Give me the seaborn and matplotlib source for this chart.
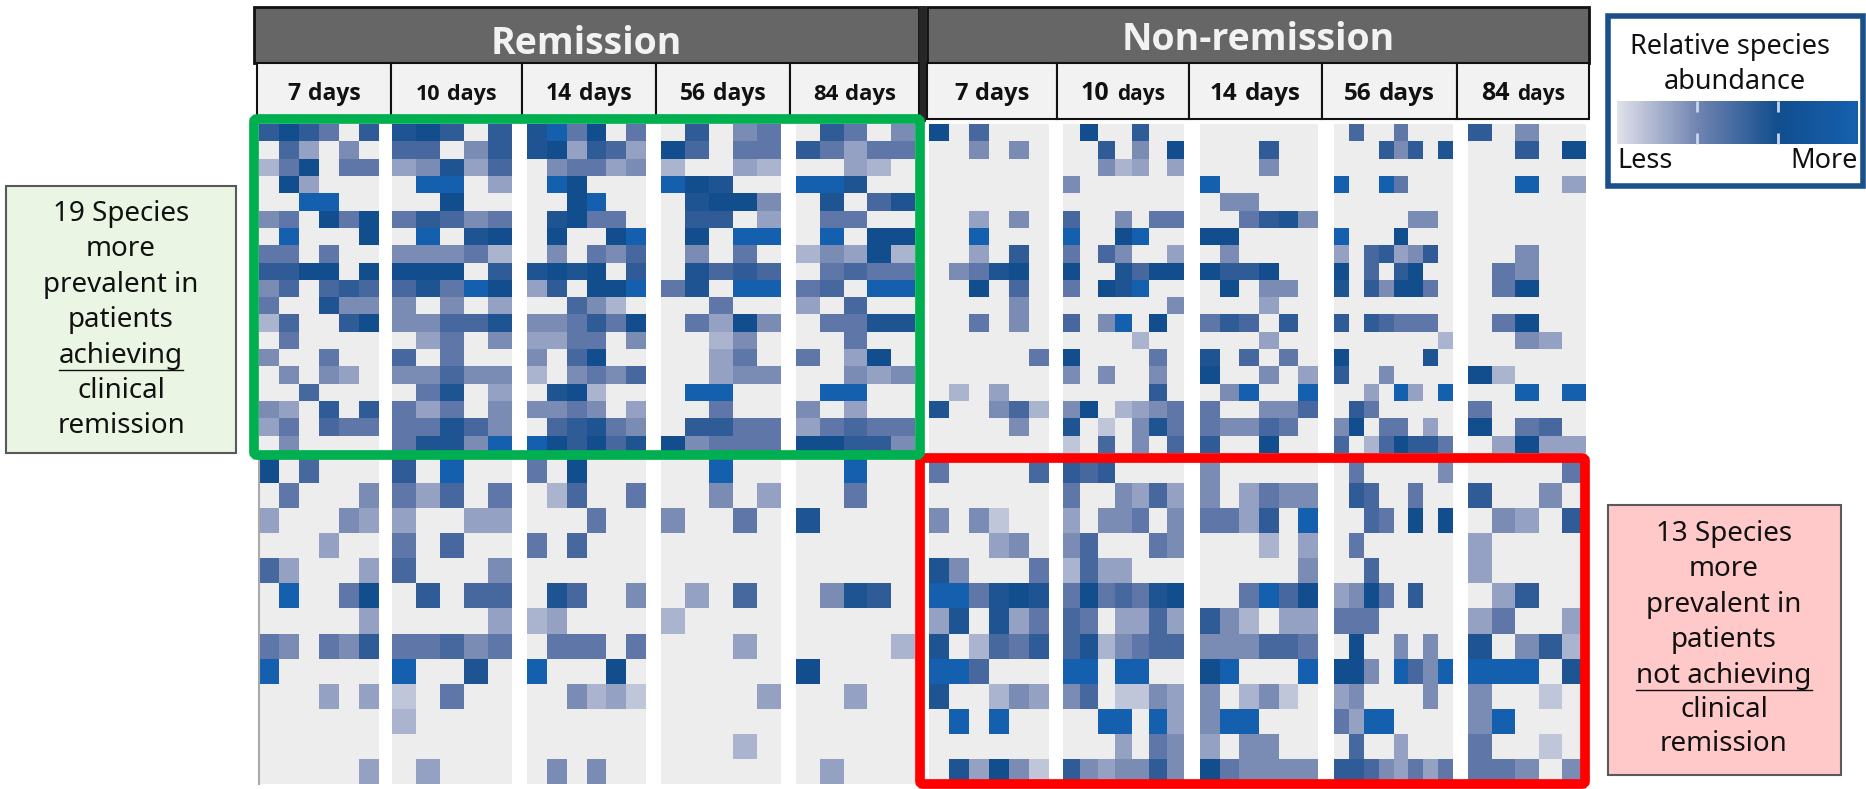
import numpy as np
import matplotlib
matplotlib.use("Agg")
import matplotlib.pyplot as plt
import seaborn as sns
from matplotlib.colors import LinearSegmentedColormap
from matplotlib.patches import Rectangle, FancyBboxPatch

# values on a 0-10 scale, 0 = species not detected
rem_top_7 = [[7,9,7,5,0,7],[0,6,3,0,4,0],[2,5,9,0,5,5],[0,9,3,0,0,0],[0,0,10,10,0,0],[4,5,0,9,5,9],[0,10,0,0,0,9],
             [5,5,0,5,0,0],[7,7,9,9,0,9],[4,6,0,6,7,6],[5,0,0,8,4,4],[2,6,0,0,7,9],[0,5,0,0,0,0],[4,0,0,5,0,0],
             [0,4,0,4,3,0],[0,0,6,0,0,0],[4,3,0,7,0,7],[3,5,0,6,5,5],[0,4,0,0,0,0]]
rem_top_10 = [[8,9,7,0,7],[6,6,0,4,7],[3,4,8,3,6],[0,10,10,0,3],[0,0,9,0,0],[5,7,6,4,5],[0,10,0,8,9],
              [4,4,4,5,2],[9,9,9,0,7],[6,8,5,10,9],[4,0,4,0,3],[4,4,6,6,8],[0,3,5,0,4],[6,0,5,0,0],
              [4,4,6,4,4],[0,5,8,0,3],[5,3,5,0,4],[5,5,8,6,4],[5,8,8,4,10]]
rem_top_14 = [[8,10,5,9,0,5],[8,9,3,7,6,3],[0,4,5,5,3,4],[0,10,9,0,0,0],[0,0,9,10,0,0],[0,8,9,5,5,0],[0,9,0,0,9,10],
              [0,4,0,5,4,6],[8,9,8,9,0,7],[3,7,0,9,9,10],[0,0,6,4,2,0],[4,4,5,7,5,9],[3,3,5,5,0,4],[4,0,6,9,0,0],
              [2,0,4,5,4,6],[0,8,9,2,0,0],[4,4,5,4,0,3],[0,6,7,8,5,4],[10,9,7,9,6,8]]
rem_top_56 = [[0,7,0,4,5],[9,6,0,5,5],[2,0,0,3,2],[10,9,8,0,0],[0,8,9,9,4],[0,7,7,0,3],[0,9,0,10,10],
              [0,4,0,5,0],[0,8,6,7,6],[5,8,0,10,10],[0,0,5,0,0],[0,5,3,9,4],[0,0,2,4,0],[0,0,3,5,0],
              [0,0,3,4,4],[0,10,10,0,0],[0,0,5,0,0],[0,7,7,5,5],[9,4,5,5,5]]
rem_top_84 = [[0,7,5,0,4],[7,5,3,5,5],[0,0,3,2,0],[10,10,8,0,0],[0,8,0,6,8],[0,5,5,0,0],[0,10,0,9,9],
              [2,4,3,9,2],[0,5,6,5,5],[5,6,0,10,10],[3,0,6,0,0],[0,5,5,8,8],[0,0,5,0,0],[5,0,3,9,0],
              [0,0,4,3,4],[0,10,10,0,0],[4,0,3,0,0],[3,5,6,5,5],[9,9,7,7,4]]

non_top_7 = [[9,0,6,0,0,0],[0,0,4,0,4,0],[0,0,0,0,0,0],[0,0,0,0,0,0],[0,0,0,0,0,0],[0,0,3,0,4,0],[0,0,10,0,0,0],
             [0,0,3,0,7,0],[0,4,5,8,9,0],[0,0,9,0,6,0],[0,0,0,0,4,0],[0,0,5,0,4,0],[0,0,0,0,0,0],[0,0,0,0,0,5],
             [0,0,0,0,0,0],[0,2,0,3,0,0],[8,0,0,4,6,2],[0,0,0,0,4,0],[0,0,0,0,0,0]]
non_top_10 = [[0,9,0,0,7,0,0],[0,0,7,0,4,0,9],[0,0,4,2,3,0,3],[4,0,0,0,0,0,0],[0,0,0,0,0,0,0],[6,0,0,4,0,5,5],[10,0,0,9,10,0,0],
              [5,0,6,4,0,0,3],[9,0,0,8,6,9,9],[5,0,9,8,10,0,0],[0,0,0,0,0,0,4],[6,0,4,10,0,9,0],[0,0,0,0,2,0,0],[9,0,0,0,0,5,0],
              [4,0,4,0,0,4,0],[0,0,0,0,0,7,0],[4,9,0,2,3,4,5],[8,0,1,0,4,8,5],[1,0,6,0,4,0,6]]
non_top_14 = [[0,0,0,0,0,0],[0,0,0,7,0,0],[0,0,0,4,0,0],[10,0,0,0,0,0],[0,4,4,0,0,0],[0,0,5,7,8,4],[9,9,0,0,0,0],
              [0,4,0,0,0,0],[9,7,7,9,0,0],[0,9,0,4,4,0],[0,0,0,3,0,0],[5,7,6,0,7,0],[0,0,0,3,0,0],[8,0,6,0,5,0],
              [9,0,0,4,0,3],[0,4,10,0,0,10],[5,0,0,4,4,6],[5,4,4,6,5,0],[7,0,0,9,0,0]]
non_top_56 = [[0,6,0,0,5,0,0,0],[0,0,0,7,4,7,0,8],[0,0,0,0,0,0,0,0],[10,0,0,10,5,0,0,0],[0,0,0,0,0,0,0,0],[0,0,0,0,0,4,4,0],[10,0,0,0,9,0,0,0],
              [3,0,6,7,3,4,7,0],[9,0,6,0,7,9,0,0],[8,0,7,4,9,9,5,0],[0,0,0,0,0,0,0,0],[7,0,7,6,5,5,5,0],[0,0,0,0,0,0,0,2],[9,0,0,0,0,0,8,0],
              [7,0,0,4,0,0,0,0],[0,0,3,0,10,3,0,10],[0,7,5,0,0,0,0,0],[4,9,0,5,5,0,3,0],[6,0,2,6,9,7,7,5]]
non_top_84 = [[7,0,4,0,0],[0,0,7,0,9],[0,0,0,0,0],[0,0,10,0,3],[0,0,0,0,0],[0,0,0,0,0],[0,0,0,0,0],
              [0,0,4,0,0],[0,5,4,0,0],[0,5,9,0,0],[0,0,0,0,0],[0,5,9,0,0],[0,0,4,3,0],[0,0,0,0,0],
              [9,2,0,0,0],[0,0,10,0,10],[5,0,0,0,0],[9,0,5,6,0],[0,3,9,3,3]]

rem_bot_7 = [[9,0,6,0,0,0],[0,5,0,0,0,4],[3,0,0,0,4,3],[0,0,0,3,0,0],[6,3,0,0,0,3],[0,10,0,0,5,9],[0,0,0,0,0,3],
             [5,4,0,5,4,7],[10,0,0,0,0,0],[0,0,0,3,0,3],[0,0,0,0,0,0],[0,0,0,0,0,0],[0,0,0,0,0,3]]
rem_bot_10 = [[7,0,10,0,0],[5,3,6,0,5],[3,0,0,3,3],[5,0,6,0,0],[6,0,0,0,4],[0,7,0,6,6],[0,0,0,0,3],
              [5,5,6,4,5],[10,0,0,8,0],[1,0,5,0,0],[2,0,0,0,0],[0,0,0,0,0],[0,3,0,0,0]]
rem_bot_14 = [[5,0,9,0,0,0],[0,2,6,0,0,5],[0,0,0,5,0,0],[5,0,6,0,0,0],[0,0,0,0,0,0],[0,8,6,0,0,4],[2,3,0,0,0,0],
              [0,5,5,5,0,5],[10,0,0,0,9,0],[0,0,4,2,3,1],[0,0,0,0,0,0],[0,0,0,0,0,0],[0,4,0,4,0,0]]
rem_bot_56 = [[0,0,10,0,0],[0,0,4,0,3],[4,0,0,5,0],[0,0,0,0,0],[0,0,0,0,0],[0,3,0,6,0],[2,0,0,0,0],
              [0,0,0,3,0],[0,0,0,0,0],[0,0,0,0,3],[0,0,0,0,0],[0,0,0,2,0],[0,0,0,0,0]]
rem_bot_84 = [[0,0,10,0,0],[0,0,5,0,0],[8,0,0,0,0],[0,0,0,0,0],[0,0,0,0,0],[0,4,8,7,0],[0,0,0,0,0],
              [0,0,0,0,2],[9,0,0,0,0],[0,0,3,0,0],[0,0,0,0,0],[0,0,0,0,0],[0,3,0,0,0]]

non_bot_7 = [[5,0,0,0,0,6],[0,0,0,0,0,0],[4,0,4,1,0,0],[0,0,0,3,4,0],[8,4,0,0,0,5],[10,10,5,8,9,8],[3,8,0,8,3,5],
             [8,0,2,6,5,7],[10,10,6,0,0,0],[8,0,0,2,4,3],[0,10,0,10,0,0],[0,0,0,0,0,0],[0,8,3,9,4,1]]
non_bot_10 = [[7,6,7,0,0,0,0],[5,0,0,4,3,6,3],[3,0,4,4,5,0,4],[4,6,0,0,0,5,4],[2,6,3,3,0,0,0],[5,9,5,6,5,8,9],[6,5,0,3,3,6,3],
              [6,8,2,4,5,6,6],[10,10,0,10,10,0,0],[4,6,0,1,1,4,3],[0,0,10,10,0,10,3],[0,0,0,3,0,5,4],[7,4,3,4,4,7,4]]
non_bot_14 = [[4,0,0,0,0,0],[4,0,3,5,4,4],[5,5,3,7,0,10],[0,0,0,2,0,3],[0,0,0,0,0,4],[0,0,5,10,6,9],[7,4,2,0,3,3],
              [4,4,4,6,6,5],[9,10,0,0,0,10],[4,0,2,4,1,0],[4,10,10,0,0,0],[3,0,4,4,0,0],[9,5,4,4,4,4]]
non_bot_56 = [[0,5,0,0,0,0,0,4],[0,7,6,0,0,5,0,0],[0,0,6,5,0,9,0,9],[0,5,0,0,0,0,0,0],[0,0,6,0,0,0,0,0],[3,4,9,5,0,7,0,0],[5,5,5,0,0,0,0,0],
              [0,9,0,0,4,0,4,0],[9,9,4,0,10,6,4,10],[3,4,0,0,0,0,4,0],[5,3,10,10,0,0,0,0],[0,6,0,0,3,0,0,0],[7,7,6,4,3,5,3,5]]
non_bot_84 = [[0,0,0,0,5],[7,0,0,4,0],[0,4,3,0,7],[3,0,0,0,0],[3,0,0,0,0],[0,3,7,0,0],[3,5,0,0,3],
              [8,0,4,7,2],[10,10,10,0,8],[4,0,0,1,0],[4,10,0,0,0],[5,0,0,1,0],[5,5,4,0,4]]

day_numbers = ["7", "10", "14", "56", "84"]
group_labels = ["Remission", "Non-remission"]

W, H = 1866, 789
plt.rcParams['font.family'] = ['Noto Sans', 'DejaVu Sans']
fig = plt.figure(figsize=(W / 100, H / 100), dpi=100)
cmap = LinearSegmentedColormap.from_list("abund", ["#C0C6DA", "#ABB4CF", "#93A1C3", "#7A8CB4", "#5E77A8",
                                                  "#47689F", "#2F5C97", "#1F5492", "#124E8E", "#1460AE"])
bar_cmap = LinearSegmentedColormap.from_list("bar", ["#E0E1EA", "#7184B1", "#124E8E", "#1560AE"])
BOLD = ['Open Sans', 'DejaVu Sans']


def px_axes(x0, y0, x1, y1, **kw):
    return fig.add_axes([x0 / W, 1 - y1 / H, (x1 - x0) / W, (y1 - y0) / H], **kw)


def panel(data, x0, y0, x1, y1):
    arr = np.array(data, dtype=float)
    ax = px_axes(x0, y0, x1, y1)
    ax.set_facecolor("#EDEDED")
    sns.heatmap(arr, mask=arr == 0, cmap=cmap, vmin=1, vmax=10, cbar=False, ax=ax,
                xticklabels=False, yticklabels=False)
    return ax


rem_x = [(259, 379), (392, 512), (527, 646), (661, 781), (796, 915)]
non_x = [(929, 1049), (1063, 1184), (1200, 1318), (1334, 1453), (1468, 1586)]
top_y = (124, 453)
bot_y = (458, 784)

for data, (x0, x1) in zip([rem_top_7, rem_top_10, rem_top_14, rem_top_56, rem_top_84], rem_x):
    panel(data, x0, top_y[0], x1, top_y[1])
for data, (x0, x1) in zip([non_top_7, non_top_10, non_top_14, non_top_56, non_top_84], non_x):
    panel(data, x0, top_y[0], x1, top_y[1])
for data, (x0, x1) in zip([rem_bot_7, rem_bot_10, rem_bot_14, rem_bot_56, rem_bot_84], rem_x):
    ax = panel(data, x0, bot_y[0], x1, bot_y[1])
    if x0 == rem_x[0][0]:
        ax.spines['left'].set_visible(True)
        ax.spines['left'].set_color("#AAAAAA")
        ax.spines['left'].set_linewidth(1.5)
for data, (x0, x1) in zip([non_bot_7, non_bot_10, non_bot_14, non_bot_56, non_bot_84], non_x):
    panel(data, x0, bot_y[0], x1, bot_y[1])

# everything around the heatmaps goes on one overlay in pixel coordinates
ov = fig.add_axes([0, 0, 1, 1], zorder=5)
ov.set_xlim(0, W)
ov.set_ylim(H, 0)
ov.axis('off')
ov.patch.set_alpha(0)
renderer = fig.canvas.get_renderer()

# group headers
for label, (x0, x1), ty in zip(group_labels, [(254, 919), (927, 1589)], [44, 40]):
    ov.add_patch(Rectangle((x0, 7), x1 - x0, 56, fc="#666666", ec="#111111", lw=2))
    ov.text((x0 + x1) / 2, ty, label, color="#F2F2F2", fontsize=27, family=BOLD, fontweight='bold',
            ha='center', va='center')
ov.add_patch(Rectangle((919, 6), 7, 116, fc="#262626", ec="none"))


def day_label(cx, y, number, num_size, days_size):
    # number and "days" are sized separately in the source, so lay them out by measured width
    a = ov.text(0, y, number, fontsize=num_size, family=BOLD, fontweight='bold', color="#111111", ha='left', va='baseline')
    b = ov.text(0, y, "days", fontsize=days_size, family=BOLD, fontweight='bold', color="#111111", ha='left', va='baseline')
    wa = a.get_window_extent(renderer).width
    wb = b.get_window_extent(renderer).width
    gap = num_size * 0.42
    left = cx - (wa + gap + wb) / 2
    a.set_x(left)
    b.set_x(left + wa + gap)


rem_div = [257, 391, 522, 656, 790, 919]
non_div = [927, 1057, 1189, 1322, 1457, 1589]
rem_sizes = [(16.5, 16.5), (15.5, 15.5), (16.5, 16.5), (16.5, 16.5), (16, 16)]
non_sizes = [(17, 17), (18, 15), (17.5, 17.5), (17.5, 17.5), (18, 15)]
for div, y1, sizes in [(rem_div, 116, rem_sizes), (non_div, 119, non_sizes)]:
    for i, number in enumerate(day_numbers):
        ov.add_patch(Rectangle((div[i], 63), div[i + 1] - div[i], y1 - 63, fc="#F2F2F2", ec="#111111", lw=1.5))
        day_label((div[i] + div[i + 1]) / 2, 100, number, sizes[i][0], sizes[i][1])

# highlight frames, green sits on top of red
ov.add_patch(FancyBboxPatch((920, 458), 665, 326, boxstyle="round,pad=0,rounding_size=3", fc="none", ec="#FF0000", lw=7))
ov.add_patch(FancyBboxPatch((254, 119), 666, 336, boxstyle="round,pad=0,rounding_size=3", fc="none", ec="#00B050", lw=7))

# side notes
left_lines = ["19 Species", "more", "prevalent in", "patients", "achieving", "clinical", "remission"]
left_y = [214, 249, 285, 320, 356, 391, 426]
right_lines = ["13 Species", "more", "prevalent in", "patients", "not achieving", "clinical", "remission"]
right_y = [534, 569, 605, 640, 676, 710, 744]
ov.add_patch(Rectangle((6, 186), 230, 267, fc="#EBF5E4", ec="#595959", lw=1.5))
ov.add_patch(Rectangle((1608, 505), 233, 270, fc="#FFC9C9", ec="#595959", lw=1.5))
for cx, lines, ys, key in [(121, left_lines, left_y, "achieving"), (1724, right_lines, right_y, "not achieving")]:
    for line, y in zip(lines, ys):
        t = ov.text(cx, y, line, fontsize=20, color="#111111", ha='center', va='center')
        if line == key:
            bb = t.get_window_extent(renderer)
            ov.plot([bb.x0, bb.x1], [y + 14, y + 14], color="#111111", lw=1)

# colour key
ov.add_patch(Rectangle((1608, 16), 255, 170, fc="white", ec="#1B4F8A", lw=4))
ov.text(1730, 47, "Relative species", fontsize=19.5, color="#111111", ha='center', va='center')
ov.text(1735, 82, "abundance", fontsize=19.5, color="#111111", ha='center', va='center')
ov.text(1617, 161, "Less", fontsize=19.5, color="#111111", ha='left', va='center')
ov.text(1858, 161, "More", fontsize=19.5, color="#111111", ha='right', va='center')

cax = px_axes(1617, 101, 1858, 144, zorder=6)
sm = plt.cm.ScalarMappable(cmap=bar_cmap, norm=plt.Normalize(0, 3))
cb = fig.colorbar(sm, cax=cax, orientation='horizontal', ticks=[1, 2])
cb.outline.set_visible(False)
cax.set_xticklabels([])
cax.tick_params(axis='x', which='major', direction='in', length=8, width=2, color="#C9D6EE", top=True, bottom=True)

fig.savefig("out.png", dpi=100)
